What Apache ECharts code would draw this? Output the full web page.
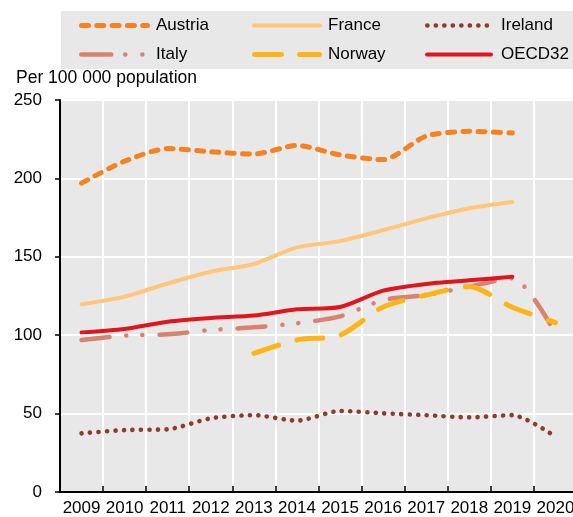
<!DOCTYPE html>
<html><head><meta charset="utf-8">
<script src="https://cdn.jsdelivr.net/npm/echarts@6/dist/echarts.min.js"></script>
<style>html,body{margin:0;padding:0;background:#fff;overflow:hidden;width:573px;height:517px;}#c{width:580px;height:517px;}</style>
</head><body><div id="c"></div>
<script>
const years = ['2009','2010','2011','2012','2013','2014','2015','2016','2017','2018','2019','2020'];
const austria = [197, 211, 219, 217, 215.5, 221, 215, 212, 227, 230, 229, null];
const france  = [119.7, 124.6, 133, 140.5, 145.4, 156, 160, 167, 174.5, 181, 185, null];
const ireland = [37.4, 39.5, 40, 47, 49, 45.5, 51.7, 50.2, 49, 47.6, 49, 35.3];
const italy   = [97, 99.7, 100.6, 103.3, 105, 107.6, 112, 122.4, 125.6, 131, 136.3, 101];
const norway  = [null, null, null, null, 88.4, 97, 100, 118, 125.6, 131, 117.8, 108];
const oecd32  = [101.8, 104, 108.6, 111, 112.5, 116.5, 118, 128.4, 132.7, 135, 137.3, null];
const yTicks = [0, 50, 100, 150, 200, 250];
const seriesNames = ['Austria', 'France', 'Ireland', 'Italy', 'Norway', 'OECD32'];

const FONT = 'Liberation Sans, Arial, sans-serif';
const styles = {
  Austria: { color: '#F58220', width: 5,   dash: [7, 8.3] },
  France:  { color: '#FFC67A', width: 4,   dash: null },
  Ireland: { color: '#8C3B2E', width: 4.6, dash: [0.1, 8.4] },
  Italy:   { color: '#D8826F', width: 4.5, dash: [28, 17, 0.1, 16, 0.1, 17], legendDash: [30, 14, 0.1, 17, 0.1, 20] },
  Norway:  { color: '#FDB515', width: 5,   dash: [26, 19], legendDash: [27, 18] },
  OECD32:  { color: '#E2141E', width: 4,   dash: null }
};
const seriesData = { Austria: austria, France: france, Ireland: ireland, Italy: italy, Norway: norway, OECD32: oecd32 };

const chart = echarts.init(document.getElementById('c'));

const graphics = [{ type: 'rect', shape: { x: 61, y: 11, width: 530, height: 58 }, style: { fill: '#e8e8e8' }, z: -1 }];
const colX = [79, 252, 425];
const colW = [71, 70, 68];
const textX = [156, 328, 501];
const rowY = [25.5, 54.5];
seriesNames.forEach((n, i) => {
  const s = styles[n];
  const c = i % 3;
  const x0 = colX[c], y0 = rowY[Math.floor(i / 3)];
  const half = s.width / 2;
  graphics.push({ type: 'line', shape: { x1: x0 + half, y1: y0, x2: x0 + colW[c] - half, y2: y0 },
    style: { stroke: s.color, lineWidth: s.width, lineDash: s.legendDash || s.dash || null, lineCap: 'round' } });
  graphics.push({ type: 'text', x: textX[c], y: y0,
    style: { text: n, fill: '#000', font: '17px ' + FONT, verticalAlign: 'middle', align: 'left' } });
});
graphics.push({ type: 'text', x: 16, y: 78,
  style: { text: 'Per 100 000 population', fill: '#000', font: '17.5px ' + FONT, verticalAlign: 'middle', align: 'left' } });

chart.setOption({
  animation: false,
  textStyle: { fontFamily: FONT },
  graphic: graphics,
  grid: { left: 60, width: 517, top: 100, height: 392, show: true, backgroundColor: '#e8e8e8', borderWidth: 0 },
  xAxis: {
    type: 'category', data: years, boundaryGap: true,
    axisLine: { lineStyle: { color: '#000', width: 2 } },
    axisTick: { show: true, inside: true, length: 6, lineStyle: { color: '#000', width: 1.5 } },
    axisLabel: { color: '#000', fontSize: 17, fontFamily: FONT, margin: 8, interval: 0 },
    splitLine: { show: true, lineStyle: { color: '#fff', width: 2 } }
  },
  yAxis: {
    type: 'value', min: 0, max: 250, interval: 50,
    axisLine: { show: true, lineStyle: { color: '#000', width: 2 } },
    axisTick: { show: true, length: 5, lineStyle: { color: '#000', width: 1.5 } },
    axisLabel: { color: '#000', fontSize: 17, fontFamily: FONT, margin: 18,
      formatter: v => yTicks.includes(v) ? String(v) : '' },
    splitLine: { show: true, lineStyle: { color: '#fff', width: 2 } }
  },
  series: seriesNames.map(n => ({
    name: n, type: 'line', data: seriesData[n], smooth: 0.25, symbol: 'none',
    lineStyle: { color: styles[n].color, width: styles[n].width, type: styles[n].dash || 'solid', cap: 'round', join: 'round' },
    itemStyle: { color: styles[n].color }, z: 3
  }))
});
</script></body></html>
